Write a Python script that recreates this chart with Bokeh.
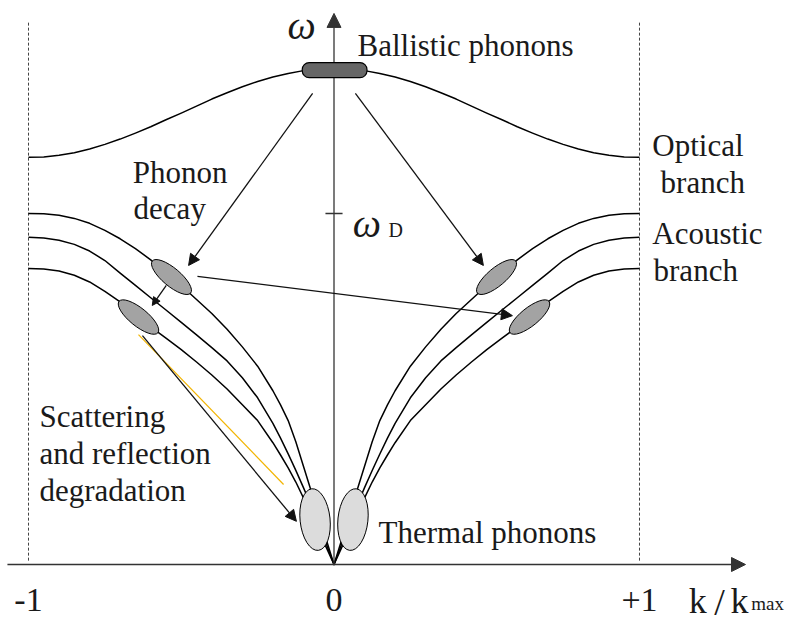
import numpy as np
from bokeh.plotting import figure
from bokeh.models import Range1d, Arrow, NormalHead, BoxAnnotation
from bokeh.core.properties import value
from bokeh.embed import file_html
from bokeh.resources import INLINE

# Reduced wavevector k/k_max for one half of the zone (the other half is the mirror image)
k_acoustic = [0.0, 0.025, 0.05, 0.075, 0.1, 0.125, 0.15, 0.175, 0.2, 0.25, 0.3, 0.35,
              0.4, 0.45, 0.5, 0.55, 0.6, 0.65, 0.7, 0.75, 0.8, 0.85, 0.9, 0.95, 1.0]

# Three acoustic branches, frequency in units of the Debye frequency
omega_acoustic_1 = [0.0, 0.07, 0.14, 0.21, 0.28, 0.35, 0.41, 0.455, 0.495, 0.565, 0.62, 0.67,
                    0.715, 0.755, 0.795, 0.832, 0.868, 0.9, 0.928, 0.952, 0.972, 0.986, 0.995, 0.999, 1.0]
omega_acoustic_2 = [0.0, 0.058, 0.115, 0.168, 0.219, 0.268, 0.315, 0.36, 0.402, 0.475, 0.532, 0.58,
                    0.618, 0.654, 0.69, 0.725, 0.76, 0.795, 0.83, 0.866, 0.893, 0.912, 0.924, 0.93, 0.932]
omega_acoustic_3 = [0.0, 0.048, 0.096, 0.143, 0.19, 0.235, 0.275, 0.312, 0.347, 0.41, 0.455, 0.5,
                    0.54, 0.577, 0.612, 0.645, 0.677, 0.712, 0.748, 0.778, 0.805, 0.824, 0.836, 0.842, 0.843]

# Optical branch
k_optical = [0.0, 0.05, 0.1, 0.15, 0.2, 0.25, 0.3, 0.35, 0.4, 0.45, 0.5,
             0.55, 0.6, 0.65, 0.7, 0.75, 0.8, 0.85, 0.9, 0.95, 1.0]
omega_optical = [1.413, 1.412, 1.407, 1.399, 1.389, 1.376, 1.361, 1.344, 1.326, 1.306, 1.286,
                 1.267, 1.247, 1.229, 1.212, 1.197, 1.184, 1.173, 1.166, 1.161, 1.16]

omega_debye = 1.0

# Phonon packets sitting on the acoustic branches
packet_k = [-0.532, 0.532, -0.64, 0.64]
packet_omega = [0.819, 0.819, 0.705, 0.705]
packet_angle_deg = [-40, 40, -39, 39]

# Thermal phonons near the zone centre
thermal_k = [-0.062, 0.062]
thermal_omega = [0.128, 0.128]
thermal_tilt_deg = [6, -6]

# Ballistic phonons at the top of the optical branch
ballistic_k = (-0.104, 0.108)
ballistic_omega = (1.387, 1.430)

tick_values = [-1, 0, 1]
tick_labels = ["-1", "0", "+1"]


def mirrored(k, w):
    k = np.asarray(k, dtype=float)
    w = np.asarray(w, dtype=float)
    return np.concatenate([-k[::-1], k[1:]]), np.concatenate([w[::-1], w[1:]])


SERIF = value("'Liberation Serif', 'DejaVu Serif', serif")
INK = "#1a1a1a"

p = figure(width=787, height=622,
           x_range=Range1d(-1.0917, 1.4845), y_range=Range1d(-0.1652, 1.6068),
           x_axis_type=None, y_axis_type=None,
           output_backend="svg", toolbar_location=None,
           min_border=0, min_border_left=0, min_border_right=0,
           min_border_top=0, min_border_bottom=0)
p.outline_line_color = None
p.background_fill_color = "white"
p.border_fill_color = "white"

# Zone boundaries
p.segment(x0=[-1, 1], y0=[0.011, 0.011], x1=[-1, 1], y1=[1.545, 1.545],
          line_color="#444444", line_width=1, line_dash="3 2")

# Coordinate axes
p.add_layout(Arrow(end=NormalHead(size=14, fill_color="#333333", line_color="#333333"),
                   x_start=-1.069, y_start=0, x_end=1.347, y_end=0,
                   line_color="#333333", line_width=1.6))
p.add_layout(Arrow(end=NormalHead(size=14, fill_color="#333333", line_color="#333333"),
                   x_start=0, y_start=0, x_end=0, y_end=1.570,
                   line_color="#333333", line_width=1.3))

# Debye frequency tick
p.segment(x0=[-0.028], y0=[omega_debye], x1=[0.028], y1=[omega_debye],
          line_color="#333333", line_width=1.3)

# Dispersion branches
for kk, ww in [(k_optical, omega_optical), (k_acoustic, omega_acoustic_1),
               (k_acoustic, omega_acoustic_2), (k_acoustic, omega_acoustic_3)]:
    xs, ys = mirrored(kk, ww)
    p.line(xs, ys, line_color="black", line_width=1.5, line_join="round")

# Guide line for the scattering arrow
p.segment(x0=[-0.640], y0=[0.655], x1=[-0.165], y1=[0.228],
          line_color="#f2b400", line_width=1.2)

# Phonon packets
p.ellipse(x=packet_k, y=packet_omega, width=50, height=18,
          angle=np.radians(packet_angle_deg).tolist(),
          width_units="screen", height_units="screen",
          fill_color="#a3a3a3", line_color="black", line_width=1)
p.ellipse(x=thermal_k, y=thermal_omega, width=30, height=62,
          angle=np.radians(thermal_tilt_deg).tolist(),
          width_units="screen", height_units="screen",
          fill_color="#dcdcdc", line_color="black", line_width=1)

# Ballistic phonon packet
p.add_layout(BoxAnnotation(left=ballistic_k[0], right=ballistic_k[1],
                           bottom=ballistic_omega[0], top=ballistic_omega[1],
                           fill_color="#666666", fill_alpha=1.0,
                           line_color="black", line_width=1.2, line_alpha=1.0,
                           border_radius=7))

# Decay and scattering arrows
arrows = [
    ((-0.070, 1.342), (-0.476, 0.852), 11),
    ((0.070, 1.342), (0.489, 0.852), 11),
    ((-0.447, 0.821), (0.584, 0.709), 11),
    ((-0.549, 0.795), (-0.595, 0.738), 8),
    ((-0.627, 0.652), (-0.123, 0.123), 11),
]
for (x0, y0), (x1, y1), hs in arrows:
    p.add_layout(Arrow(end=NormalHead(size=hs, fill_color="#111111", line_color="#111111"),
                       x_start=x0, y_start=y0, x_end=x1, y_end=y1,
                       line_color="#111111", line_width=1.3))

# Labels
labels_x = [0.077, -0.659, -0.656, 1.042, 1.069, 1.042, 1.046, -0.964, -0.964, -0.964, 0.146]
labels_y = [1.479, 1.117, 1.014, 1.194, 1.088, 0.943, 0.838, 0.422, 0.316, 0.211, 0.091]
labels_text = ["Ballistic phonons", "Phonon", "decay", "Optical", "branch", "Acoustic", "branch",
               "Scattering", "and reflection", "degradation", "Thermal phonons"]
p.text(x=labels_x, y=labels_y, text=labels_text, text_font=SERIF, text_font_size="31px",
       text_baseline="alphabetic", text_align="left", text_color=INK)

# Axis tick labels
p.text(x=tick_values, y=[-0.100] * 3, text=tick_labels, text_font=SERIF,
       text_font_size="34px", text_baseline="alphabetic", text_align="center", text_color=INK)

# Axis titles
p.text(x=[1.161, 1.298], y=[-0.105] * 2, text=["k", "k"], text_font=SERIF,
       text_font_size="36px", text_baseline="alphabetic", text_align="left", text_color=INK)
p.text(x=[1.262], y=[-0.108], text=["/"], text_font=SERIF,
       text_font_size="38px", text_baseline="alphabetic", text_align="center", text_color=INK)
p.text(x=[1.366], y=[-0.112], text=["max"], text_font=SERIF, text_font_size="19px",
       text_baseline="alphabetic", text_align="left", text_color=INK)
p.text(x=[-0.152, 0.061], y=[1.536, 0.972], text=["ω", "ω"], text_font=SERIF,
       text_font_size="40px", text_font_style="italic",
       text_baseline="alphabetic", text_align="left", text_color=INK)
p.text(x=[0.178], y=[0.954], text=["D"], text_font=SERIF, text_font_size="20px",
       text_baseline="alphabetic", text_align="left", text_color=INK)

open("out.html", "w").write(file_html(p, INLINE))
